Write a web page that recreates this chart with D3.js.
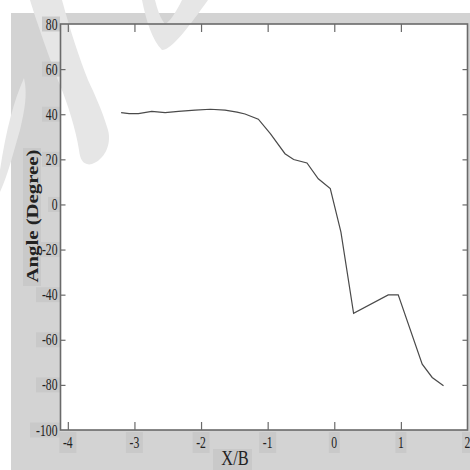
<!DOCTYPE html>
<html><head><meta charset="utf-8">
<script src="https://cdn.jsdelivr.net/npm/d3@7"></script>
<style>html,body{margin:0;padding:0;background:#fff;}svg{display:block;}</style>
</head><body>
<script>
// ---- data ----
const xbValues = [-3.20,-3.08,-2.94,-2.74,-2.54,-2.34,-2.09,-1.86,-1.64,-1.46,-1.34,-1.14,-0.96,-0.74,-0.61,-0.41,-0.24,-0.06,0.10,0.29,0.81,0.96,1.32,1.47,1.64];
const angleValues = [40.7,40.3,40.3,41.3,40.7,41.3,41.8,42.2,41.8,40.9,40.1,37.8,31.4,22.5,19.9,18.4,11.4,7.0,-12.3,-48.3,-40.1,-40.1,-70.8,-76.7,-80.4];
const xTicks = [-4,-3,-2,-1,0,1,2];
const yTicks = [-100,-80,-60,-40,-20,0,20,40,60,80];
const xTitle = "X/B";
const yTitle = "Angle (Degree)";

const W = 470, H = 470;
const L = 60.5, R = 467.5, T = 24, B = 430;
const x = d3.scaleLinear().domain([-4.11, 2]).range([L, R]);
const y = d3.scaleLinear().domain([-100, 80]).range([B, T]);

const svg = d3.select("body").append("svg").attr("width", W).attr("height", H);
const serif = "'Liberation Serif','Times New Roman',serif";
const SX = 0.73;

// background
svg.append("rect").attr("x", 11).attr("y", 13).attr("width", W - 11).attr("height", H - 13).attr("fill", "#d3d3d3");
svg.append("rect").attr("x", L).attr("y", T).attr("width", R - L).attr("height", B - T).attr("fill", "#fff");

// faint decorative watermark strokes (non-data)
const wm = svg.append("g").attr("fill", "#e6e6e6").attr("stroke", "none");
wm.append("path").attr("d", "M30,0 C36,20 50,60 60,85 C68,105 76,130 79,150 C80,160 84,166 92,164 C104,160 112,145 108,130 C102,110 95,95 88,80 C80,60 70,30 62,0 Z");
wm.append("path").attr("d", "M142,0 C146,20 152,40 162,50 C172,50 190,25 208,0 L182,0 C176,12 170,22 165,24 C160,18 157,8 155,0 Z");
wm.append("path").attr("d", "M24,78 C14,100 6,130 0,170 L0,192 C8,175 14,150 20,130 C24,112 28,95 24,78 Z");

// label boxes + labels
const boxFill = "#c9c9c9";
yTicks.forEach(v => {
  const yy = y(v);
  const w = String(v).length * 6 + 4;
  svg.append("rect").attr("x", 58 - w).attr("y", yy - 7.5).attr("width", w + 2).attr("height", 15).attr("fill", boxFill);
  svg.append("g").attr("transform", `translate(57.5,${yy + 5.5}) scale(${SX},1)`)
    .append("text").attr("text-anchor", "end").attr("font-family", serif).attr("font-size", 16)
    .attr("fill", "#222").text(v);
});
xTicks.forEach(v => {
  const xx = x(v);
  const w = String(v).length * 6 + 3;
  svg.append("rect").attr("x", xx - w / 2 - 1).attr("y", 432).attr("width", w + 2).attr("height", 21).attr("fill", boxFill);
  svg.append("g").attr("transform", `translate(${xx},${448}) scale(${SX},1)`)
    .append("text").attr("text-anchor", "middle").attr("font-family", serif).attr("font-size", 16)
    .attr("fill", "#222").text(v);
});

// titles
svg.append("rect").attr("x", 23).attr("y", 148).attr("width", 18).attr("height", 138).attr("fill", boxFill);
svg.append("g").attr("transform", "translate(38,216) rotate(-90)")
  .append("text").attr("text-anchor", "middle").attr("font-family", serif).attr("font-weight", "bold")
  .attr("font-size", 17).attr("fill", "#222").attr("textLength", 133).attr("lengthAdjust", "spacingAndGlyphs").text(yTitle);
svg.append("rect").attr("x", 213).attr("y", 449).attr("width", 39).attr("height", 21).attr("fill", boxFill);
svg.append("g").attr("transform", `translate(235,464.5) scale(0.78,1)`)
  .append("text").attr("text-anchor", "middle").attr("font-family", serif).attr("font-size", 21)
  .attr("fill", "#222").text(xTitle);

// axes (ticks inward)
const axCol = "#6a6a6a";
function styleAxis(g) {
  g.select(".domain").remove();
  g.selectAll(".tick line").attr("stroke", axCol).attr("stroke-width", 1.2);
  g.selectAll(".tick text").remove();
}
svg.append("g").attr("transform", `translate(0,${B})`)
  .call(d3.axisTop(x).tickValues(xTicks.slice(0, -1)).tickSize(8).tickFormat("")).call(styleAxis);
svg.append("g").attr("transform", `translate(0,${T})`)
  .call(d3.axisBottom(x).tickValues(xTicks.slice(0, -1)).tickSize(8).tickFormat("")).call(styleAxis);
svg.append("g").attr("transform", `translate(${L},0)`)
  .call(d3.axisRight(y).tickValues(yTicks.slice(1, -1)).tickSize(5).tickFormat("")).call(styleAxis);
svg.append("g").attr("transform", `translate(${R},0)`)
  .call(d3.axisLeft(y).tickValues(yTicks.slice(1, -1)).tickSize(5).tickFormat("")).call(styleAxis);

// frame
svg.append("rect").attr("x", L).attr("y", T).attr("width", R - L).attr("height", B - T)
  .attr("fill", "none").attr("stroke", axCol).attr("stroke-width", 1.6);

// curve
const pts = xbValues.map((v, i) => [v, angleValues[i]]);
svg.append("path").datum(pts)
  .attr("d", d3.line().x(d => x(d[0])).y(d => y(d[1])))
  .attr("fill", "none").attr("stroke", "#4a4a4a").attr("stroke-width", 1.2);
</script>
</body></html>
